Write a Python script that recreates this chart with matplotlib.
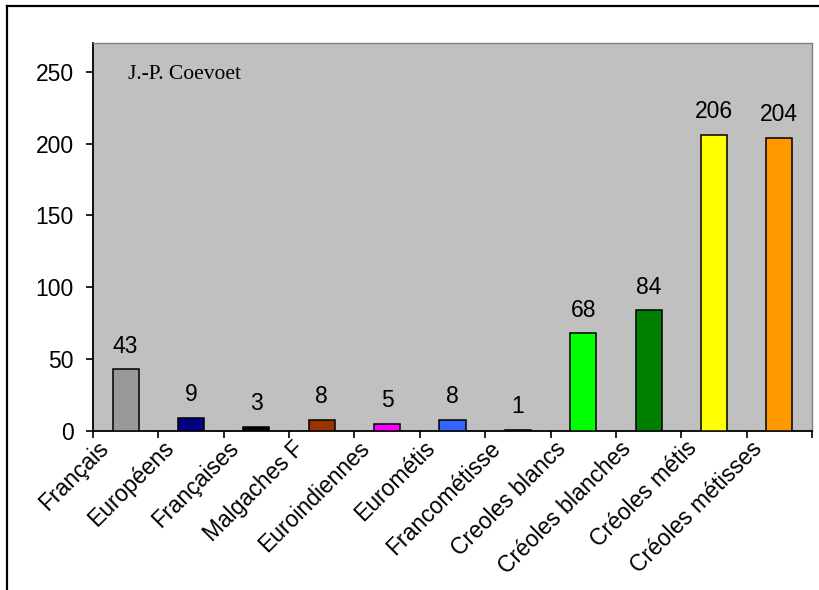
import matplotlib
matplotlib.use("Agg")
import matplotlib.pyplot as plt
from matplotlib.lines import Line2D
from matplotlib.transforms import ScaledTranslation

categories = ["Français", "Européens", "Françaises", "Malgaches F", "Euroindiennes",
              "Eurométis", "Francométisse", "Creoles blancs", "Créoles blanches",
              "Créoles métis", "Créoles métisses"]
values = [43, 9, 3, 8, 5, 8, 1, 68, 84, 206, 204]
colors = ["#999999", "#000080", "#000000", "#993300", "#FF00FF", "#3366FF",
          "#000000", "#00FF00", "#008000", "#FFFF00", "#FF9900"]
yticks = [0, 50, 100, 150, 200, 250]
author = "J.-P. Coevoet"

plt.rcParams['font.family'] = ['Liberation Sans', 'DejaVu Sans']
FS = 16.5

fig = plt.figure(figsize=(8.2, 5.9), dpi=100)
W, H = 820, 590
ax = fig.add_axes([93 / W, 1 - 431 / H, (812 - 93) / W, (431 - 43) / H])
ax.set_facecolor("#C0C0C0")

x = list(range(len(categories)))
bars = ax.bar(x, values, width=0.4, color=colors, edgecolor="black", linewidth=1.1, zorder=3)
for xi, v in zip(x, values):
    ax.annotate(str(v), (xi, v), xytext=(0, 12), textcoords="offset points",
                ha="center", va="baseline", fontsize=FS, color="black")

ax.set_xlim(-0.5, len(categories) - 0.5)
ax.set_ylim(0, 270)
ax.set_yticks(yticks)
ax.set_yticklabels([str(t) for t in yticks], fontsize=FS)
ax.tick_params(axis="y", direction="out", length=5, width=1.2, pad=9)

# boundaries as major ticks, labels at centres as minor ticks
ax.set_xticks([i - 0.5 for i in range(len(categories) + 1)])
ax.set_xticklabels([])
ax.tick_params(axis="x", which="major", direction="out", length=5, width=1.2)
ax.set_xticks(x, minor=True)
ax.set_xticklabels(categories, minor=True, rotation=45, ha="right", va="center",
                   rotation_mode="anchor", fontsize=FS)
ax.tick_params(axis="x", which="minor", length=0, pad=10)
off = ScaledTranslation(-21 / 100, 0, fig.dpi_scale_trans)
for lab in ax.get_xticklabels(minor=True):
    lab.set_transform(lab.get_transform() + off)

for s in ["top", "right"]:
    ax.spines[s].set_color("#808080")
    ax.spines[s].set_linewidth(1.0)
for s in ["left", "bottom"]:
    ax.spines[s].set_color("black")
    ax.spines[s].set_linewidth(1.3)

ax.text(0.049, 0.907, author, transform=ax.transAxes, fontsize=15.5,
        family=["Liberation Serif", "DejaVu Serif"], ha="left", va="baseline")

# outer chart frame
fig.add_artist(Line2D([7 / W, 7 / W], [0, 1 - 6 / H], transform=fig.transFigure,
                      color="black", linewidth=1.6))
fig.add_artist(Line2D([7 / W, 1], [1 - 6 / H, 1 - 6 / H], transform=fig.transFigure,
                      color="black", linewidth=1.6))

fig.savefig("out.png", dpi=100)
